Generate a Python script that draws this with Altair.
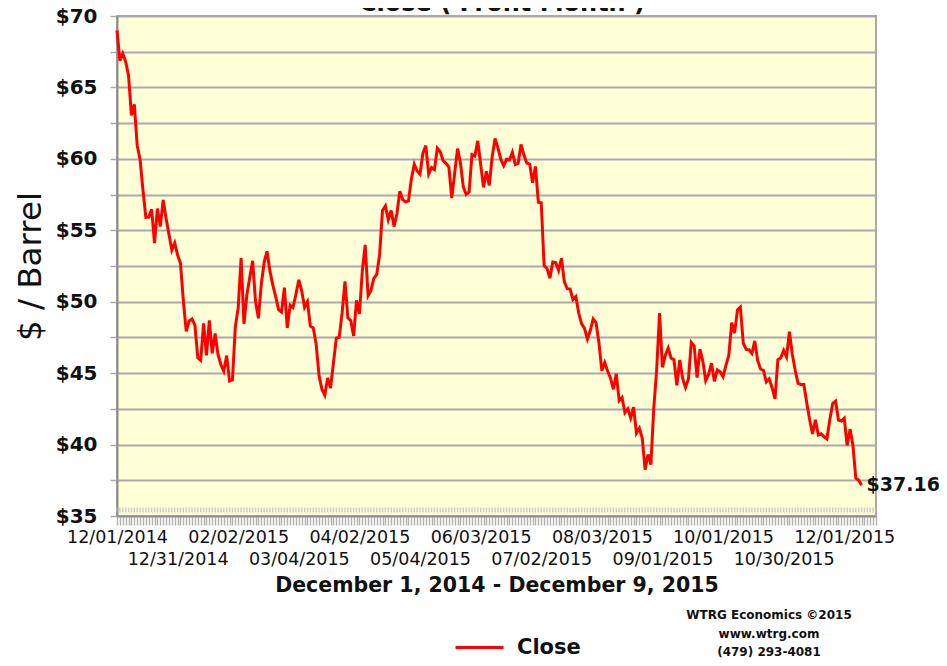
import altair as alt
import pandas as pd

# WTI front-month daily closes ($/barrel), one list per month (trading days only)
dec_2014 = [69.00, 66.88, 67.38, 66.81, 65.84, 63.05, 63.82, 60.94, 59.95, 57.81, 55.91,
            55.93, 56.47, 54.11, 56.52, 55.26, 57.12, 55.84, 54.73, 53.61, 54.12, 53.27]
jan_2015 = [52.69, 50.04, 47.93, 48.65, 48.79, 48.36, 46.07, 45.89, 48.48, 46.25, 48.69,
            46.39, 47.78, 46.31, 45.59, 45.15, 46.23, 44.45, 44.53, 48.24]
feb_2015 = [49.57, 53.05, 48.45, 50.48, 51.69, 52.86, 50.02, 48.84, 51.21, 52.78, 53.53,
            52.14, 51.16, 50.34, 49.45, 49.28, 50.99, 48.17, 49.76]
mar_2015 = [49.59, 50.52, 51.53, 50.76, 49.61, 50.00, 48.29, 48.17, 47.05, 44.84, 43.88,
            43.46, 44.66, 43.96, 45.72, 47.45, 47.51, 49.21, 51.43, 48.87, 48.68, 47.60]
apr_2015 = [50.09, 49.14, 52.14, 53.98, 50.42, 50.79, 51.64, 51.91, 53.29, 56.39, 56.71,
            55.74, 56.38, 55.26, 56.16, 57.74, 57.15, 56.99, 57.06, 58.58, 59.63]
may_2015 = [59.15, 58.93, 60.40, 60.93, 58.94, 59.39, 59.25, 60.75, 60.50, 59.88, 59.69,
            59.43, 57.26, 58.98, 60.72, 59.72, 58.03, 57.51, 57.68, 60.30]
jun_2015 = [60.20, 61.26, 59.64, 58.00, 59.13, 58.14, 60.14, 61.43, 60.77, 59.96, 59.52,
            59.97, 59.92, 60.45, 59.61, 59.68, 61.01, 60.27, 59.70, 59.63, 58.33, 59.47]
jul_2015 = [56.96, 56.93, 52.53, 52.33, 51.65, 52.78, 52.74, 52.20, 53.04, 51.41, 50.91,
            50.89, 50.15, 50.36, 49.19, 48.45, 48.14, 47.39, 47.98, 48.79, 48.52, 47.12]
aug_2015 = [45.17, 45.74, 45.15, 44.66, 43.87, 44.96, 43.08, 43.30, 42.23, 42.50, 41.87,
            42.62, 40.80, 41.14, 40.45, 38.24, 39.31, 38.60, 42.56, 45.22, 49.20]
sep_2015 = [45.41, 46.25, 46.75, 46.05, 45.94, 44.15, 45.92, 44.63, 44.00, 44.59, 47.15,
            46.90, 44.68, 46.68, 45.83, 44.48, 44.91, 45.70, 44.43, 45.23, 45.09]
oct_2015 = [44.74, 45.54, 46.26, 48.53, 47.81, 49.43, 49.63, 47.10, 46.66, 46.64, 46.38,
            47.26, 45.89, 45.29, 45.20, 44.38, 44.60, 43.98, 43.20, 45.94, 46.06, 46.59]
nov_2015 = [46.14, 47.90, 46.32, 45.20, 44.29, 44.21, 44.21, 42.93, 41.75, 40.74, 41.74,
            40.67, 40.75, 40.54, 40.39, 41.75, 42.87, 43.04, 41.71, 41.65]
dec_2015 = [41.85, 39.94, 41.08, 39.97, 37.65, 37.51, 37.16]

closes = (dec_2014 + jan_2015 + feb_2015 + mar_2015 + apr_2015 + may_2015 + jun_2015
          + jul_2015 + aug_2015 + sep_2015 + oct_2015 + nov_2015 + dec_2015)

# x-axis: trading-day index, labelled every 21 trading days
x_label_days = [0, 21, 42, 63, 84, 105, 126, 147, 168, 189, 210, 231, 252]
x_label_text = ["12/01/2014", "12/31/2014", "02/02/2015", "03/04/2015", "04/02/2015",
                "05/04/2015", "06/03/2015", "07/02/2015", "08/03/2015", "09/01/2015",
                "10/01/2015", "10/30/2015", "12/01/2015"]
x_max_day = 263
y_ticks = [35, 37.5, 40, 42.5, 45, 47.5, 50, 52.5, 55, 57.5, 60, 62.5, 65, 67.5, 70]
credit_lines = ["WTRG Economics  \u00a92015", "www.wtrg.com", "(479) 293-4081"]
chart_title = "Close ( Front Month )"

df = pd.DataFrame({"day": list(range(len(closes))), "close": closes, "series": "Close"})
ticks_df = pd.DataFrame({"day": list(range(0, x_max_day + 1))})
one = pd.DataFrame({"k": [0]})

# label expression: alternate labels go on a second row
parts = []
for i, (d, t) in enumerate(zip(x_label_days, x_label_text)):
    lab = f"'{t}'" if i % 2 == 0 else f"['', '{t}']"
    parts.append(f"datum.value == {d} ? {lab} : ")
x_expr = "".join(parts) + "''"

GRID = "#a9a9a9"
FONT = "DejaVu Sans"
x_tick_values = list(range(0, x_max_day + 1))

x_axis = alt.Axis(
    values=x_tick_values, tickCount=len(x_tick_values) + 10, labelExpr=x_expr, grid=False,
    labelOverlap=False, labelFlush=False, labelBound=False,
    labelFont=FONT, labelFontSize=17.5, labelColor="#111111", labelLineHeight=22,
    labelPadding=3, tickSize=9, tickWidth=1.5, tickColor="#b4b4b4",
    domainColor="#8c8c8c", domainWidth=1.5,
    title="December 1, 2014 - December 9, 2015", titleFont=FONT,
    titleFontSize=20.5, titleFontWeight="bold", titleColor="#111111",
    titleY=69, titleBaseline="middle",
)
x_enc = alt.X("day:Q", scale=alt.Scale(domain=[0, x_max_day], nice=False, zero=False),
              axis=x_axis)
y_enc = alt.Y(
    "close:Q",
    scale=alt.Scale(domain=[35, 70], nice=False, zero=False),
    axis=alt.Axis(
        values=y_ticks, tickCount=len(y_ticks) + 5,
        labelExpr="datum.value % 5 == 0 ? '$' + datum.value : ''",
        grid=True, gridColor=GRID, gridWidth=2, labelOverlap=False,
        tickSize=7, tickWidth=1.5, tickColor=GRID, domainColor="#8c8c8c", domainWidth=2,
        labelFont=FONT, labelFontWeight="bold", labelFontSize=20, labelColor="#111111",
        labelPadding=13, labelFlush=False, labelBound=False,
        title="$ / Barrel", titleFont=FONT, titleFontSize=32.5, titleFontWeight="normal",
        titleColor="#111111", titleX=-87, titleY=250, titleAngle=270,
        titleAlign="center", titleBaseline="middle",
    ),
)

inner_ticks = alt.Chart(ticks_df).mark_tick(
    color="#b8b8b8", thickness=1.5, size=5, yOffset=-6
).encode(x=alt.X("day:Q", axis=x_axis), y=alt.datum(35))

line = alt.Chart(df).mark_line(strokeWidth=3).encode(
    x=x_enc,
    y=y_enc,
    color=alt.Color(
        "series:N",
        scale=alt.Scale(domain=["Close"], range=["#ff0000"]),
        legend=alt.Legend(
            orient="none", legendX=337, legendY=606, title=None, symbolType="stroke",
            symbolStrokeWidth=3, symbolSize=2300, labelFont=FONT, labelFontWeight="bold",
            labelFontSize=21, labelColor="#111111", labelOffset=12, padding=0,
        ),
    ),
)

end_label = alt.Chart(df.tail(1)).mark_text(
    align="left", baseline="middle", dx=5, font=FONT, fontWeight="bold", fontSize=19,
    color="#111111",
).encode(x="day:Q", y="close:Q", text=alt.Text("close:Q", format="$.2f"))

credits = alt.Chart(one).mark_text(
    text=credit_lines, align="center", baseline="top", font=FONT, fontWeight="bold",
    fontSize=12, lineHeight=18.5, color="#111111",
).encode(x=alt.value(652), y=alt.value(594))

top_title = alt.Chart(one).mark_text(
    text=chart_title, align="center", baseline="alphabetic", font=FONT, fontWeight="bold",
    fontSize=24, color="#111111",
).encode(x=alt.value(385), y=alt.value(-5))

chart = alt.layer(inner_ticks, line, end_label, credits, top_title).properties(
    width=759, height=500, autosize="none",
    padding={"left": 109, "top": 8, "right": 63, "bottom": 142},
).configure_view(fill="#ffffd8", stroke=GRID, strokeWidth=2)

chart.save("out.html", embed_options={"renderer": "svg", "actions": False})
